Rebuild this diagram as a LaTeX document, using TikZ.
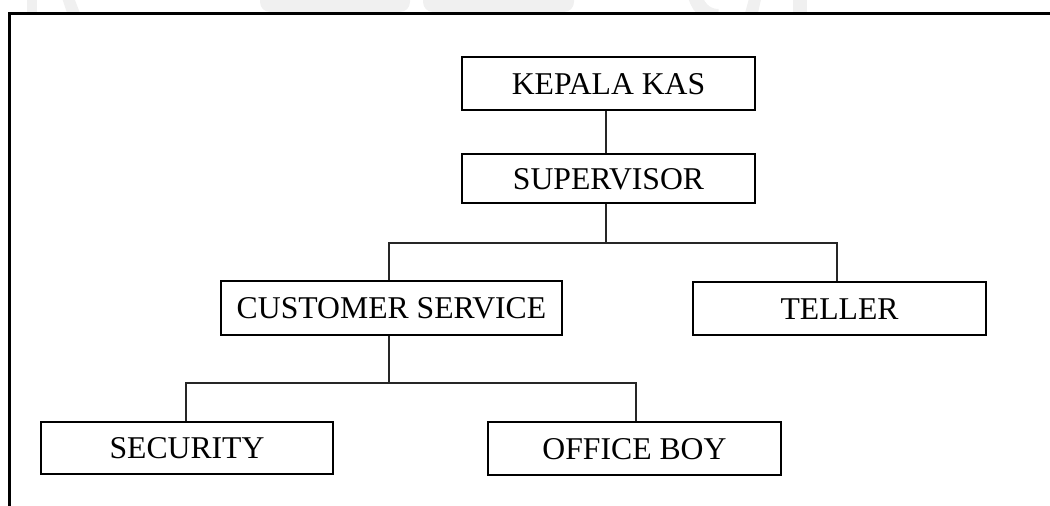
\documentclass[tikz,border=0pt]{standalone}
\usepackage{fontspec}
\setmainfont{Liberation Serif}
\begin{document}
\begin{tikzpicture}[x=1pt,y=-1pt,
  box/.style={draw=black,line width=2pt,rectangle,inner sep=0pt,fill=white,
    font=\fontsize{31.7}{38}\selectfont,text height=21pt,text depth=0pt},
  conn/.style={draw=black!85,line width=1.1pt},
  frameline/.style={draw=black,line width=2.6pt},
  wm/.style={fill=black!6,draw=none}]
\useasboundingbox (0,0) rectangle (1050,506);
% faint watermark remnants above the frame
\begin{scope}
  \clip (0,0) rectangle (1050,12.5);
  \fill[wm] (27,-5) rectangle (37,13);
  \fill[wm] (61,-5) -- (73,-5) -- (80,13) -- (67,13) -- cycle;
  \fill[wm,rounded corners=10pt] (260,-30) rectangle (410,12);
  \fill[wm,rounded corners=10pt] (423,-30) rectangle (574,12);
  \draw[black!6,line width=14pt] (694,-8) to[out=-80,in=180] (718,16);
  \fill[wm] (750,-5) -- (762,-5) -- (758,13) -- (745,13) -- cycle;
  \fill[wm] (793,-5) rectangle (807,13);
\end{scope}
% frame
\coordinate (fl) at (9.5,506);
\coordinate (fc) at (9.5,13.5);
\coordinate (fr) at (1050,13.5);
\draw[frameline] (fl) -- (fc) -- (fr);
% boxes
\node[box,minimum width=293pt,minimum height=53pt] (kk) at (608.5,83.5) {KEPALA KAS};
\node[box,minimum width=293pt,minimum height=49pt] (sv) at (608.5,178.5) {SUPERVISOR};
\node[box,minimum width=341pt,minimum height=54pt] (cs) at (391.5,308) {CUSTOMER SERVICE};
\node[box,minimum width=293pt,minimum height=53pt] (tl) at (839.5,308.5) {TELLER};
\node[box,minimum width=292pt,minimum height=52pt] (sc) at (187,448) {SECURITY};
\node[box,minimum width=293pt,minimum height=53pt] (ob) at (634.5,448.5) {OFFICE BOY};
% connectors
\coordinate (j1) at (606,243);
\coordinate (h1l) at (389,243);
\coordinate (h1r) at (837,243);
\coordinate (j2) at (389,383);
\coordinate (h2l) at (186,383);
\coordinate (h2r) at (636,383);
\draw[conn] (kk.south -| j1) -- (sv.north -| j1);
\draw[conn] (sv.south -| j1) -- (j1);
\draw[conn] (cs.north -| h1l) -- (h1l) -- (h1r) -- (tl.north -| h1r);
\draw[conn] (cs.south -| j2) -- (j2);
\draw[conn] (sc.north -| h2l) -- (h2l) -- (h2r) -- (ob.north -| h2r);
\end{tikzpicture}
\end{document}
